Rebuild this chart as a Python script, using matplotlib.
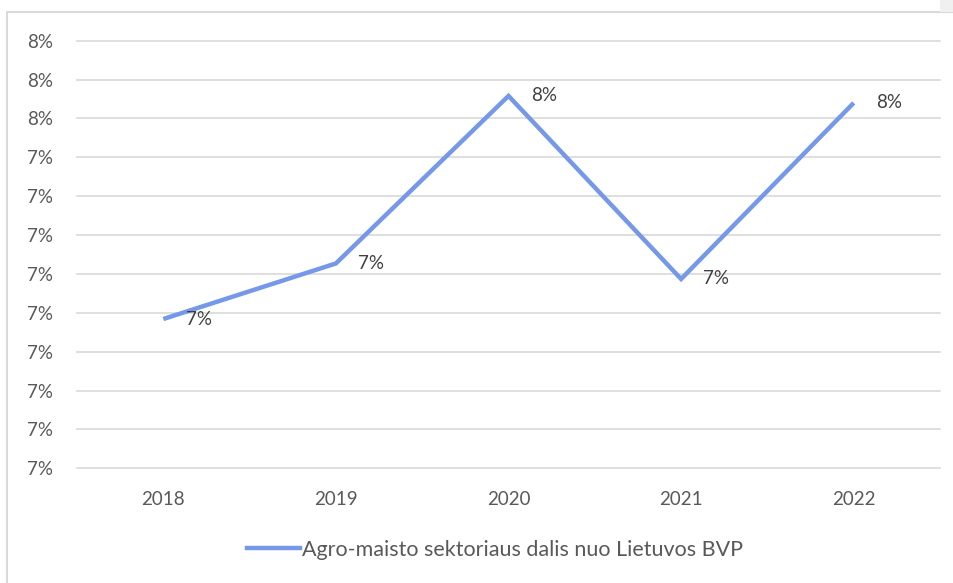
import numpy as np
import matplotlib.pyplot as plt
from matplotlib.patches import Rectangle
from matplotlib.lines import Line2D

# duomenys
metai = ['2018', '2019', '2020', '2021', '2022']
dalis = [6.984, 7.127, 7.558, 7.087, 7.540]   # % nuo BVP
y_ticks = [6.6, 6.7, 6.8, 6.9, 7.0, 7.1, 7.2, 7.3, 7.4, 7.5, 7.6, 7.7]
serijos_pavadinimas = 'Agro-maisto sektoriaus dalis nuo Lietuvos BVP'

plt.rcParams['font.family'] = ['Lato', 'DejaVu Sans']
tekstas = '#595959'
linija = '#7599E8'

W, H = 954, 583
fig = plt.figure(figsize=(W / 100, H / 100), dpi=100)

# remelis aplink diagrama
fig.patches.append(Rectangle((7 / W, -0.01), 1.0, 1 - 12 / H + 0.01, transform=fig.transFigure,
                             fill=False, edgecolor='#D9D9D9', linewidth=1.5))
fig.patches.append(Rectangle((940 / W, 1 - 12 / H), 20 / W, 12 / H, transform=fig.transFigure,
                             facecolor='#F0F0F0', edgecolor='none'))

ax = fig.add_axes([77 / W, (H - 468.3) / H, (940 - 77) / W, (468.3 - 40.7) / H])
x = np.arange(len(metai))
ax.plot(x, dalis, color=linija, linewidth=3.2, solid_capstyle='butt', solid_joinstyle='miter')

for xi, v in zip(x, dalis):
    ax.annotate('%.0f%%' % v, (xi, v), xytext=(16, 0), textcoords='offset points',
                ha='left', va='center', fontsize=13.5, color='#404040')

ax.set_xlim(-0.5, len(metai) - 0.5)
ax.set_ylim(y_ticks[0], y_ticks[-1])
ax.set_yticks(y_ticks)
ax.set_yticklabels(['%.0f%%' % (t + 1e-9) for t in y_ticks])
ax.set_xticks(x)
ax.set_xticklabels(metai)
ax.tick_params(axis='y', length=0, pad=17, labelsize=13.5, labelcolor=tekstas)
ax.tick_params(axis='x', length=0, pad=16, labelsize=13.5, labelcolor=tekstas)
ax.grid(axis='y', color='#D9D9D9', linewidth=1.2)
for gl in ax.get_ygridlines():
    gl.set_clip_on(False)
ax.set_axisbelow(True)
for s in ax.spines.values():
    s.set_visible(False)

h = Line2D([], [], color=linija, linewidth=3.2)
fig.legend([h], [serijos_pavadinimas], loc='center', bbox_to_anchor=(495 / W, 1 - 550 / H),
           frameon=False, fontsize=15.5, labelcolor=tekstas, handlelength=2.5, handletextpad=0.1)

plt.savefig('out.png', dpi=100)
